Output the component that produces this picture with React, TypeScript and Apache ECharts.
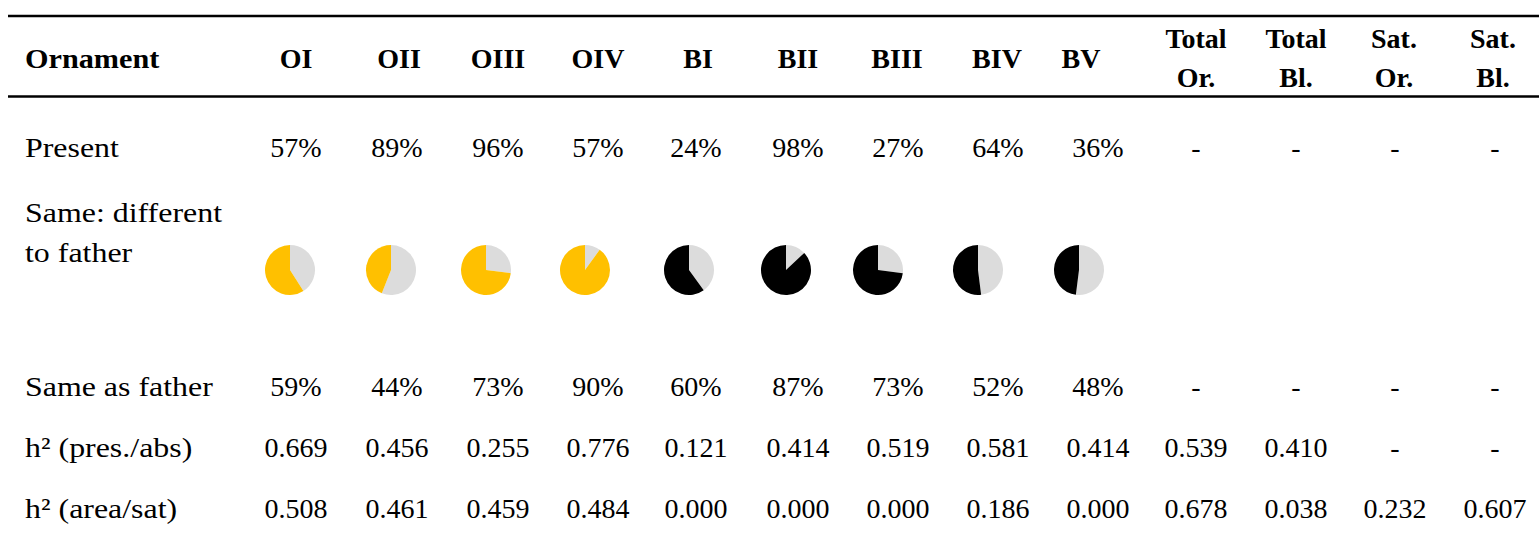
import React, { useEffect, useRef } from "react";
import * as echarts from "echarts";

// ---------- data ----------
const categories = ["OI", "OII", "OIII", "OIV", "BI", "BII", "BIII", "BIV", "BV"];
const categoryGroup = ["O", "O", "O", "O", "B", "B", "B", "B", "B"];
const summaryHeadTop = ["Total", "Total", "Sat.", "Sat."];
const summaryHeadBottom = ["Or.", "Bl.", "Or.", "Bl."];
const rowLabels = ["Present", "Same: different\nto father", "Same as father", "h² (pres./abs)", "h² (area/sat)"];

const presentPct = [57, 89, 96, 57, 24, 98, 27, 64, 36, null, null, null, null];
const sameAsFatherPct = [59, 44, 73, 90, 60, 87, 73, 52, 48, null, null, null, null];
const h2PresAbs = [0.669, 0.456, 0.255, 0.776, 0.121, 0.414, 0.519, 0.581, 0.414, 0.539, 0.41, null, null];
const h2AreaSat = [0.508, 0.461, 0.459, 0.484, 0.0, 0.0, 0.0, 0.186, 0.0, 0.678, 0.038, 0.232, 0.607];

// ---------- layout / style ----------
const W = 1539;
const H = 543;
const FONT = "'Liberation Serif', 'Times New Roman', serif";
const FS = 28;
const colX = [296, 397, 498, 598, 696, 798, 898, 998, 1098, 1196, 1296, 1395, 1495];
const headX = [296, 399, 498, 598, 698, 798, 897, 997, 1081, 1196, 1296, 1394, 1493];
const pieX = [290, 391, 486, 585, 689, 786, 878, 978, 1079];
const pieY = 270;
const pieR = 25;
const labelX = 25;
const labelScale = 1.14;
const headLabelScale = 1.08;
const rowY = { header: 58, headTop: 38, headBottom: 77, present: 147, sameDiff1: 212, sameDiff2: 252, same: 386, h2a: 447, h2b: 508 };
const groupColor: Record<string, string> = { O: "#FFC000", B: "#000000" };
const GREY = "#DCDCDC";

const pct = (v: number | null) => (v == null ? "-" : `${v}%`);
const dec = (v: number | null) => (v == null ? "-" : v.toFixed(3));

function txt(text: string, x: number, y: number, align: string, bold = false, scaleX = 1) {
  return {
    type: "text",
    x,
    y,
    scaleX,
    silent: true,
    style: {
      text,
      fill: "#000",
      font: `${bold ? "bold " : ""}${FS}px ${FONT}`,
      align,
      verticalAlign: "middle",
    },
  };
}

function buildOption() {
  const g: any[] = [];
  // rules
  g.push({ type: "line", silent: true, shape: { x1: 8, y1: 16, x2: W, y2: 16 }, style: { stroke: "#000", lineWidth: 2.5 } });
  g.push({ type: "line", silent: true, shape: { x1: 8, y1: 96.5, x2: W, y2: 96.5 }, style: { stroke: "#000", lineWidth: 2.5 } });

  // header
  g.push(txt("Ornament", labelX, rowY.header, "left", true, headLabelScale));
  categories.forEach((c, i) => g.push(txt(c, headX[i], rowY.header, "center", true)));
  summaryHeadTop.forEach((t, k) => {
    g.push(txt(t, headX[9 + k], rowY.headTop, "center", true));
    g.push(txt(summaryHeadBottom[k], headX[9 + k], rowY.headBottom, "center", true));
  });

  // row labels
  g.push(txt(rowLabels[0], labelX, rowY.present, "left", false, labelScale));
  const [l1, l2] = rowLabels[1].split("\n");
  g.push(txt(l1, labelX, rowY.sameDiff1, "left", false, labelScale));
  g.push(txt(l2, labelX, rowY.sameDiff2, "left", false, labelScale));
  g.push(txt(rowLabels[2], labelX, rowY.same, "left", false, labelScale));
  g.push(txt(rowLabels[3], labelX, rowY.h2a, "left", false, labelScale));
  g.push(txt(rowLabels[4], labelX, rowY.h2b, "left", false, labelScale));

  // values
  colX.forEach((x, i) => {
    g.push(txt(pct(presentPct[i]), x, rowY.present, "center"));
    g.push(txt(pct(sameAsFatherPct[i]), x, rowY.same, "center"));
    g.push(txt(dec(h2PresAbs[i]), x, rowY.h2a, "center"));
    g.push(txt(dec(h2AreaSat[i]), x, rowY.h2b, "center"));
  });

  const series = categories.map((c, i) => ({
    type: "pie",
    name: c,
    center: [pieX[i], pieY],
    radius: [0, pieR],
    startAngle: 90,
    clockwise: true,
    silent: true,
    label: { show: false },
    labelLine: { show: false },
    emphasis: { disabled: true },
    itemStyle: { borderWidth: 0 },
    data: [
      { name: "different", value: 100 - (sameAsFatherPct[i] as number), itemStyle: { color: GREY, borderWidth: 0 } },
      { name: "same", value: sameAsFatherPct[i] as number, itemStyle: { color: groupColor[categoryGroup[i]], borderWidth: 0 } },
    ],
  }));

  return {
    animation: false,
    backgroundColor: "#fff",
    graphic: { elements: g },
    series,
  };
}

export default function App() {
  const ref = useRef<HTMLDivElement>(null);
  useEffect(() => {
    if (!ref.current) return;
    const chart = echarts.init(ref.current, null, { renderer: "svg", width: W, height: H });
    chart.setOption(buildOption() as any);
    return () => chart.dispose();
  }, []);
  return <div ref={ref} style={{ position: "absolute", left: 0, top: 0, width: W, height: H, background: "#fff" }} />;
}
